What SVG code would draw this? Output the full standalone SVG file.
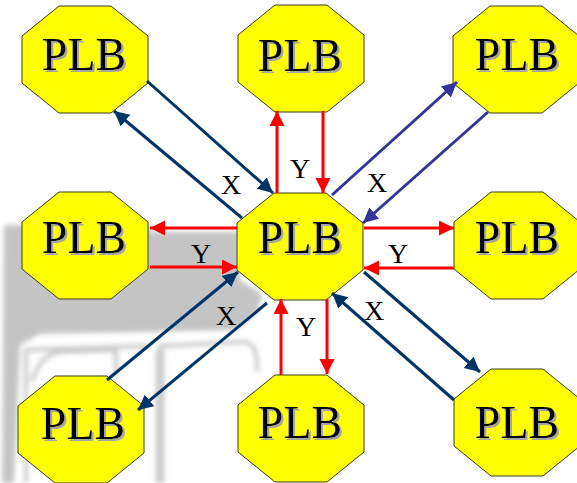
<svg xmlns="http://www.w3.org/2000/svg" width="577" height="483" viewBox="0 0 577 483">
<style>
.oct{fill:#ffff00;stroke:#3a3a1a;stroke-width:1}
.plb{font-family:"Liberation Serif","Times New Roman",serif;font-size:46px;text-anchor:middle;fill:#000000;filter:url(#ts)}
.lbl{font-family:"Liberation Serif","Times New Roman",serif;font-size:28px;text-anchor:middle;fill:#000000}
.red{stroke:#ff0000;stroke-width:3;fill:none;marker-end:url(#ar)}
.navy{stroke:#003366;stroke-width:3;fill:none;marker-end:url(#an)}
.pur{stroke:#333399;stroke-width:3;fill:none;marker-end:url(#ap)}
.wm{fill:none;stroke:#c8c8c8;stroke-width:4}
</style>
<defs>
<filter id="ts" x="-10%" y="-20%" width="130%" height="150%"><feDropShadow dx="2" dy="2" stdDeviation="0" flood-color="#a6a6a6" flood-opacity="1"/></filter>
<filter id="blur" x="-5%" y="-5%" width="110%" height="110%"><feGaussianBlur stdDeviation="2.5"/></filter>
<polygon id="oct" points="37,0 89,0 126,30 126,77 89,107 37,107 0,77 0,30"/>
<marker id="ar" markerUnits="userSpaceOnUse" markerWidth="16" markerHeight="16" refX="15" refY="7.5" orient="auto"><path d="M0,0 L15,7.5 L0,15 Z" fill="#ff0000"/></marker>
<marker id="an" markerUnits="userSpaceOnUse" markerWidth="16" markerHeight="16" refX="15" refY="7.5" orient="auto"><path d="M0,0 L15,7.5 L0,15 Z" fill="#003366"/></marker>
<marker id="ap" markerUnits="userSpaceOnUse" markerWidth="16" markerHeight="16" refX="15" refY="7.5" orient="auto"><path d="M0,0 L15,7.5 L0,15 Z" fill="#333399"/></marker>
</defs>
<rect width="577" height="483" fill="#ffffff"/>
<g id="watermark" filter="url(#blur)">
<path d="M4,225 L150,225 L150,232 L240,232 L240,280 L262,294 L258,312 L236,330 L40,334 L20,345 L14,483 L2,483 Z" fill="#c4c4c4"/>
<path class="wm" d="M26,483 L26,350 L150,346"/>
<path class="wm" d="M160,483 L160,346 L245,342 Q258,343 257,372"/>
<path d="M160,483 L160,350" stroke="#cccccc" stroke-width="9" fill="none"/>
<path class="wm" d="M32,382 Q40,354 60,352 L116,350 L116,378"/>
</g>
<g id="plb-tl"><use href="#oct" x="22" y="6" class="oct"/><text class="plb" x="84" y="70">PLB</text></g>
<g id="plb-tm"><use href="#oct" x="238" y="5" class="oct"/><text class="plb" x="300" y="71">PLB</text></g>
<g id="plb-tr"><use href="#oct" x="453" y="6" class="oct"/><text class="plb" x="517" y="70">PLB</text></g>
<g id="plb-ml"><use href="#oct" x="22" y="192" class="oct"/><text class="plb" x="84" y="253">PLB</text></g>
<g id="plb-c"><use href="#oct" x="237" y="193" class="oct"/><text class="plb" x="300" y="253">PLB</text></g>
<g id="plb-mr"><use href="#oct" x="454" y="192" class="oct"/><text class="plb" x="517" y="253">PLB</text></g>
<g id="plb-bl"><use href="#oct" x="18" y="376" class="oct"/><text class="plb" x="83" y="439">PLB</text></g>
<g id="plb-bm"><use href="#oct" x="238" y="375" class="oct"/><text class="plb" x="300" y="438">PLB</text></g>
<g id="plb-br"><use href="#oct" x="454" y="369" class="oct"/><text class="plb" x="517" y="438">PLB</text></g>
<g id="connectors">
<path class="navy" d="M147,81 L273,193"/>
<path class="navy" d="M242,218 L114,111"/>
<path class="navy" d="M107,380 L238,272"/>
<path class="navy" d="M267,303 L138,410"/>
<path class="navy" d="M454,400 L332,293"/>
<path class="navy" d="M364,272 L480,372"/>
<path class="pur" d="M332,195 L457,82"/>
<path class="pur" d="M488,112 L363,223"/>
<path class="red" d="M277,193 L277,111"/>
<path class="red" d="M323,111 L323,193"/>
<path class="red" d="M237,228 L150,228"/>
<path class="red" d="M150,267 L237,267"/>
<path class="red" d="M364,228 L454,228"/>
<path class="red" d="M454,268 L364,268"/>
<path class="red" d="M281,375 L281,299"/>
<path class="red" d="M327,299 L327,374"/>
<text class="lbl" x="231" y="194">X</text>
<text class="lbl" x="300" y="178">Y</text>
<text class="lbl" x="377" y="192">X</text>
<text class="lbl" x="201" y="263">Y</text>
<text class="lbl" x="398" y="263">Y</text>
<text class="lbl" x="226" y="325">X</text>
<text class="lbl" x="306" y="336">Y</text>
<text class="lbl" x="374" y="320">X</text>
</g>
</svg>
